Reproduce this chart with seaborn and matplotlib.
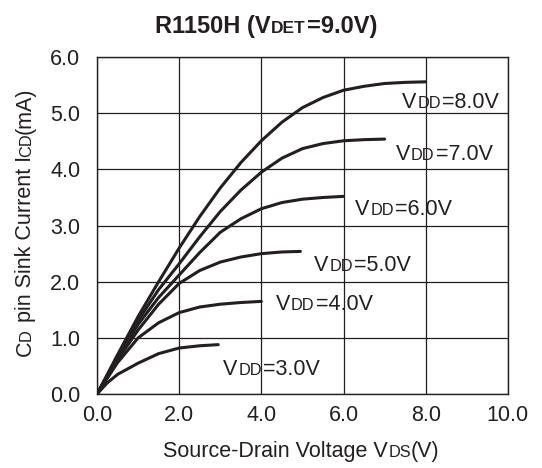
import pandas as pd
import matplotlib
matplotlib.use("Agg")
import matplotlib.pyplot as plt
from matplotlib.transforms import IdentityTransform
import seaborn as sns

# --- data (V_DS in V, I_CD in mA) ---
vds_3 = [0.0, 0.25, 0.5, 1.0, 1.5, 2.0, 2.5, 2.95]
icd_3 = [0.0, 0.2, 0.35, 0.55, 0.72, 0.82, 0.86, 0.88]

vds_4 = [0.0, 0.5, 1.0, 1.5, 2.0, 2.5, 3.0, 3.5, 4.0]
icd_4 = [0.0, 0.56, 1.0, 1.27, 1.45, 1.55, 1.60, 1.63, 1.65]

vds_5 = [0.0, 0.5, 1.0, 1.5, 2.0, 2.5, 3.0, 3.5, 4.0, 4.5, 4.95]
icd_5 = [0.0, 0.61, 1.14, 1.60, 1.97, 2.20, 2.35, 2.44, 2.50, 2.53, 2.54]

vds_6 = [0.0, 0.5, 1.0, 1.5, 2.0, 2.5, 3.0, 3.5, 4.0, 4.5, 5.0, 5.5, 6.0]
icd_6 = [0.0, 0.64, 1.24, 1.72, 2.12, 2.52, 2.88, 3.12, 3.30, 3.41, 3.47, 3.50, 3.52]

vds_7 = [0.0, 0.5, 1.0, 1.5, 2.0, 2.5, 3.0, 3.5, 4.0, 4.5, 5.0, 5.5, 6.0, 6.5, 7.0]
icd_7 = [0.0, 0.67, 1.31, 1.86, 2.32, 2.80, 3.25, 3.63, 3.95, 4.20, 4.37, 4.46, 4.51, 4.53, 4.54]

vds_8 = [0.0, 0.5, 1.0, 1.5, 2.0, 2.5, 3.0, 3.5, 4.0, 4.5, 5.0, 5.5, 6.0, 6.5, 7.0, 7.5, 8.0]
icd_8 = [0.0, 0.70, 1.38, 2.00, 2.60, 3.16, 3.67, 4.12, 4.51, 4.84, 5.10, 5.28, 5.41, 5.48, 5.53, 5.55, 5.56]

vdd_labels = ["3.0", "4.0", "5.0", "6.0", "7.0", "8.0"]
label_x = [3.07, 4.35, 5.28, 6.28, 7.27, 7.42]   # left edge of text
label_y = [0.34, 1.49, 2.19, 3.18, 4.17, 5.10]   # baseline

x_ticks = [0, 2, 4, 6, 8, 10]
x_ticklabels = ["0.0", "2.0", "4.0", "6.0", "8.0", "10.0"]
y_ticks = [0, 1, 2, 3, 4, 5, 6]
y_ticklabels = ["0.0", "1.0", "2.0", "3.0", "4.0", "5.0", "6.0"]

INK = "#231f20"
FS = 15.5
SUB = 11.8

frames = []
for vdd, xs, ys in zip(vdd_labels, [vds_3, vds_4, vds_5, vds_6, vds_7, vds_8],
                       [icd_3, icd_4, icd_5, icd_6, icd_7, icd_8]):
    frames.append(pd.DataFrame({"vds": xs, "icd": ys, "vdd": vdd}))
df = pd.concat(frames, ignore_index=True)

sns.set_style("white")
plt.rcParams["font.family"] = ["Liberation Sans", "DejaVu Sans"]

fig = plt.figure(figsize=(5.42, 4.68), dpi=100)
ax = fig.add_axes([0.179, 0.158, 0.758, 0.720])

sns.lineplot(data=df, x="vds", y="icd", hue="vdd", units="vdd", estimator=None,
             palette=[INK] * 6, linewidth=2.2, legend=False, sort=False, ax=ax)

ax.set_xlim(0, 10)
ax.set_ylim(0, 6)
ax.set_xticks(x_ticks)
ax.set_yticks(y_ticks)
ax.set_xticklabels(x_ticklabels)
ax.set_yticklabels(y_ticklabels)
ax.tick_params(axis="x", length=0, labelsize=FS, pad=8, colors=INK)
ax.tick_params(axis="y", length=0, labelsize=FS, pad=12, colors=INK)
ax.grid(True, color=INK, linewidth=0.9)
for sp in ax.spines.values():
    sp.set_color(INK)
    sp.set_linewidth(1.0)
ax.set_xlabel("")
ax.set_ylabel("")

renderer = fig.canvas.get_renderer()


def rich(pieces, x, y, rotation=0, center=False, weight="normal"):
    """Lay out text pieces of mixed size on a common baseline (display px).
    pieces: (text, size, gap_after_px)"""
    arts = []
    for s, size, _ in pieces:
        t = fig.text(0, 0, s, fontsize=size, fontweight=weight, color=INK,
                     rotation=rotation, rotation_mode="anchor",
                     ha="left", va="baseline", transform=IdentityTransform())
        arts.append(t)
    steps = []
    for t, (_, _, gap) in zip(arts, pieces):
        bb = t.get_window_extent(renderer)
        steps.append((bb.height if rotation == 90 else bb.width) + gap)
    total = sum(steps)
    pos = -total / 2 if center else 0.0
    for t, st in zip(arts, steps):
        if rotation == 90:
            t.set_position((x, y + pos))
        else:
            t.set_position((x + pos, y))
        pos += st


H = 468
for lab, lx, ly in zip(vdd_labels, label_x, label_y):
    px, py = ax.transData.transform((lx, ly))
    rich([("V", FS, 1), ("DD", SUB, 1), ("=" + lab + "V", FS, 0)], px, py)

rich([("R1150H (V", 17, 1), ("DET", 12.5, 1), ("=9.0V)", 17, 0)], 266, H - 33,
     center=True, weight="bold")
rich([("Source-Drain Voltage V", FS, 1), ("DS", SUB, -1), ("(V)", FS, 0)], 301, H - 457,
     center=True)
rich([("C", FS, 0), ("D", SUB, 1), (" pin Sink Current I", FS, -1), ("CD", SUB, -1),
      ("(mA)", FS, 0)],
     31, H - 222, rotation=90, center=True)

fig.savefig("out.png", dpi=100)
